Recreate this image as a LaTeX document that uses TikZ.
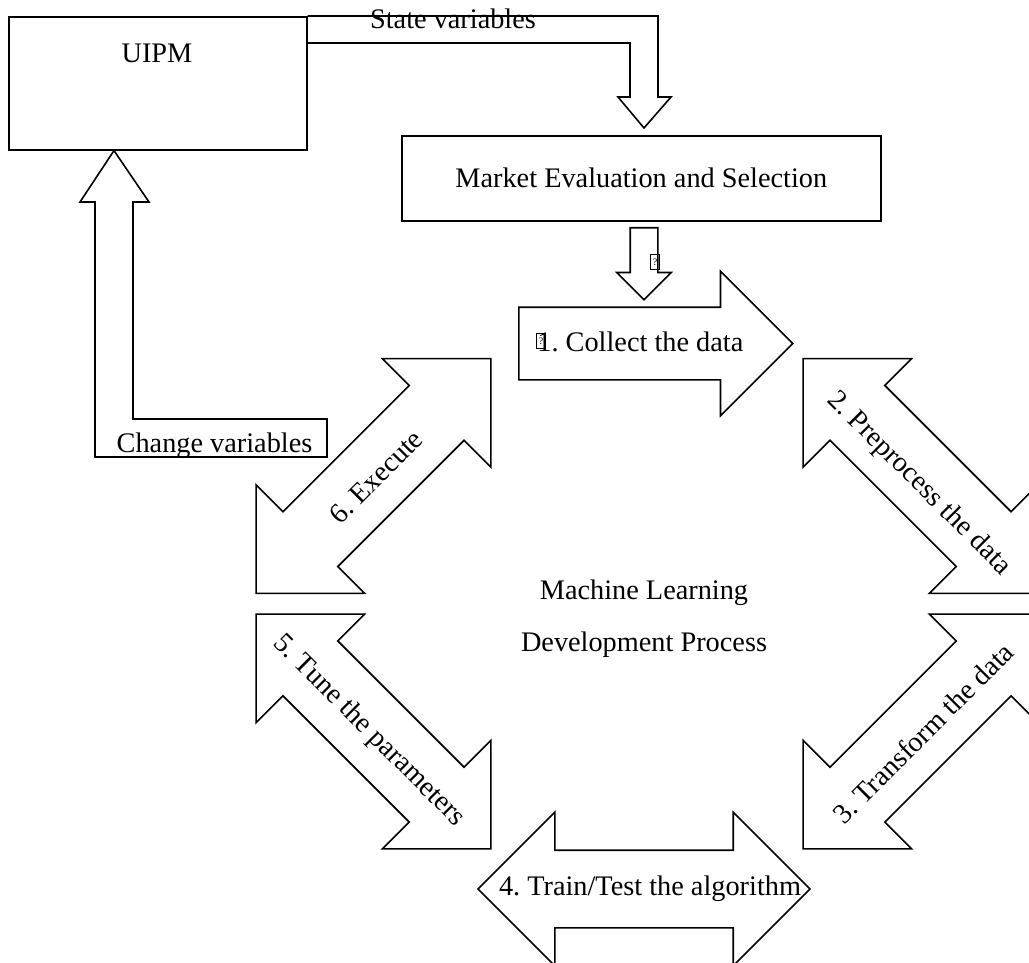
\documentclass[tikz,border=0pt]{standalone}
\usepackage{fontspec}
\setmainfont{Liberation Serif}
\usetikzlibrary{shapes.arrows}
\frenchspacing

\begin{document}
\begin{tikzpicture}[
    x=0.5pt, y=-0.5pt,
    font=\fontsize{14.15}{17}\selectfont,
    box/.style={draw, line width=0.8pt, inner sep=0pt, align=center},
    blk/.style={draw, line width=0.8pt, line join=miter},
    dblarrow/.style={double arrow, draw, line width=0.8pt, inner xsep=0pt, inner ysep=19pt, minimum height=166pt, minimum width=76pt, double arrow head extend=19pt, double arrow tip angle=90},
    onearrow/.style={single arrow, draw, line width=0.8pt, inner xsep=0pt, single arrow tip angle=90},
    missing/.style={draw, line width=0.4pt, inner sep=0pt, minimum width=4.5pt, minimum height=7.5pt, font=\fontsize{5}{5}\selectfont}
  ]
    \useasboundingbox (0,0) rectangle (1029,963);

    % top boxes
    \node[box, anchor=north west, minimum width=149pt, minimum height=66.5pt] (uipm) at (8,16) {};
    \node (uipmlbl) at (157,53) {UIPM};
    \node[box, anchor=north west, minimum width=239.5pt, minimum height=42.5pt] (market) at (401,135) {Market Evaluation and Selection};

    % state variables
    \coordinate (svtip) at (644,128);
    \draw[blk] (uipm.north east) -- (658,16) -- (658,97) -- (671,97) -- (svtip) -- (618,97) -- (630,97) -- (630,43) -- (uipm.east |- 0,43);
    \node[anchor=base] (svlbl) at (453,29) {State variables};

    % change variables
    \coordinate (cvtip) at (uipm.south -| 114,0);
    \draw[blk] (cvtip) -- (149,202) -- (133,202) -- (133,419) -- (327,419) -- (327,457) -- (95,457) -- (95,202) -- (80,202) -- cycle;
    \node[anchor=base] (cvlbl) at (214.5,452) {Change variables};

    % into the cycle
    \node[onearrow, rotate=-90, anchor=tail, inner ysep=6.5pt, minimum height=36pt, minimum width=26.5pt, single arrow head extend=6.75pt] (down) at (644,227) {};
    \node[missing] (gla) at (655,262) {?};

    % the six steps
    \node[onearrow, anchor=tail, inner ysep=17.75pt, minimum height=137pt, minimum width=71.5pt, single arrow head extend=18pt] (collect) at (518,343.5) {};
    \node[anchor=west, inner sep=0pt] (collectlbl) at (537,342) {1. Collect the data};
    \node[missing] (glb) at (541,341) {?};

    \node[dblarrow, rotate=-45] (pre) at (920.5,476) {};
    \node[rotate=-45] (prelbl) at (919,484) {2. Preprocess the data};
    \node[dblarrow, rotate=45] (trans) at (920.5,731.5) {};
    \node[rotate=45] (translbl) at (923,733) {3. Transform the data};
    \node[dblarrow] (train) at (644,889) {};
    \node (trainlbl) at (650,889) {4. Train/Test the algorithm};
    \node[dblarrow, rotate=-45] (tune) at (373.5,731.5) {};
    \node[rotate=-45] (tunelbl) at (369,731) {5. Tune the parameters};
    \node[dblarrow, rotate=45] (exec) at (373.5,476) {};
    \node[rotate=45] (execlbl) at (376,477) {6. Execute};

    \node (mla) at (644,593) {Machine Learning};
    \node (mlb) at (644,645) {Development Process};
  \end{tikzpicture}
\end{document}
